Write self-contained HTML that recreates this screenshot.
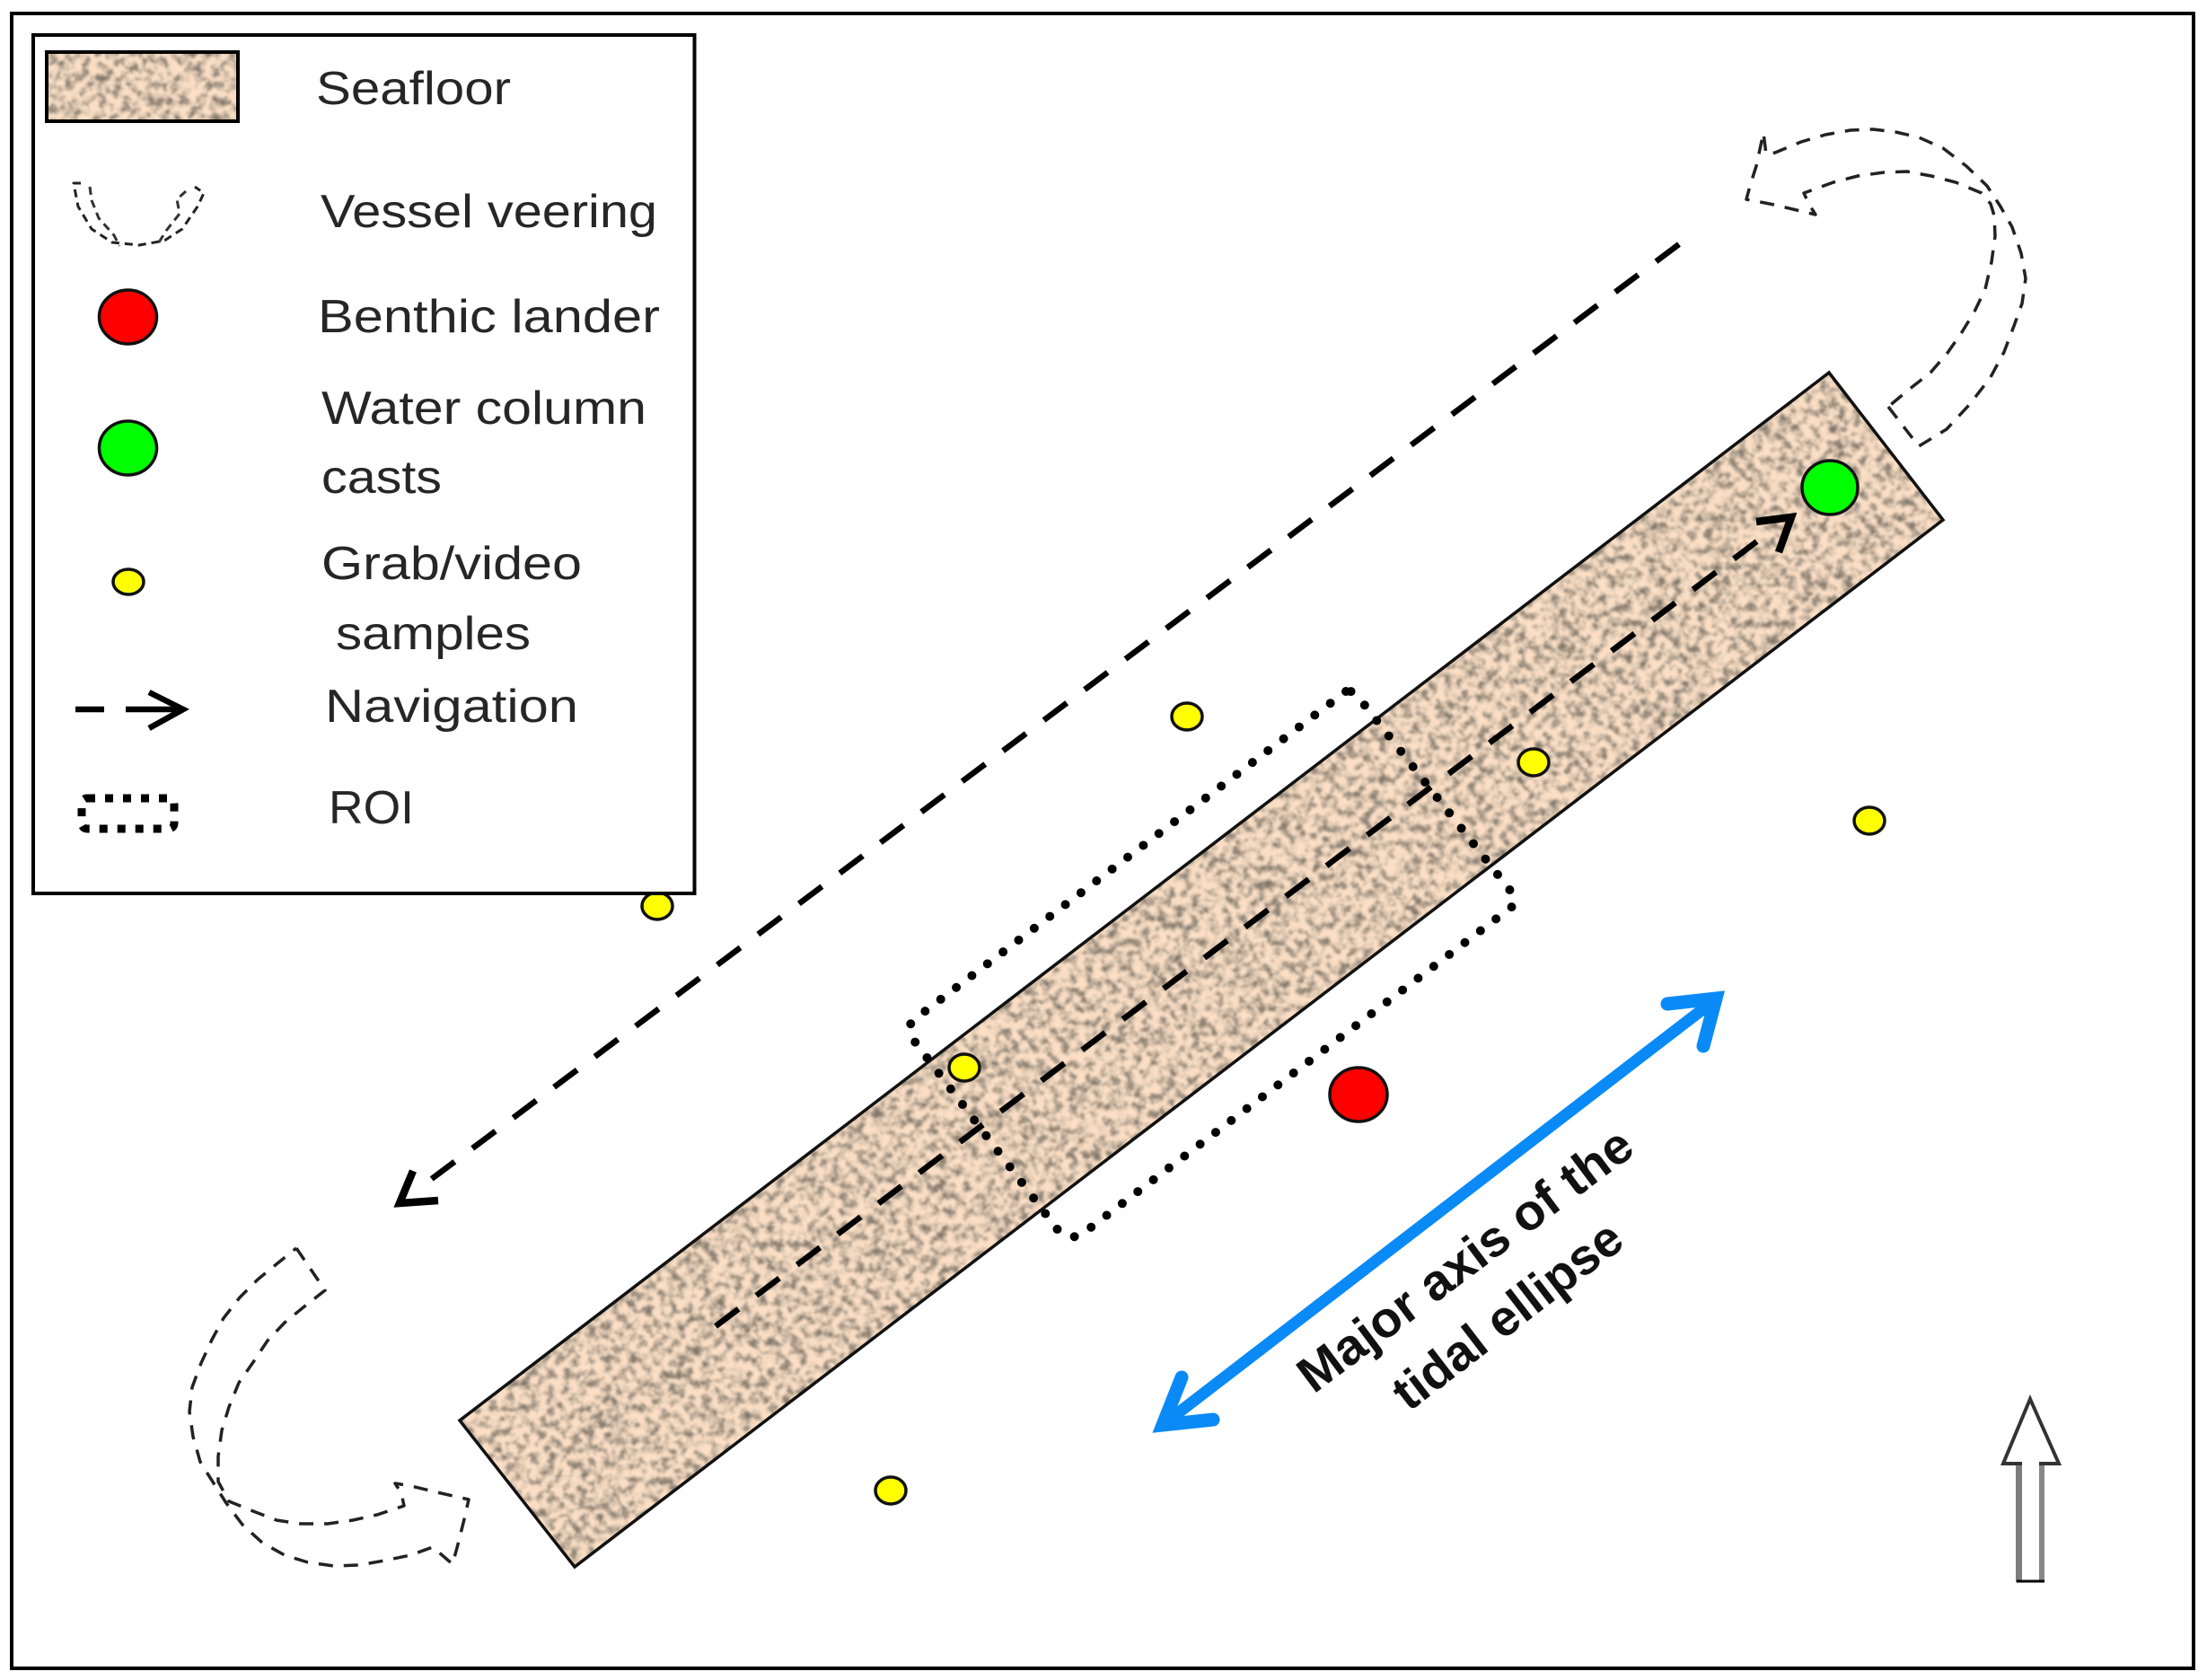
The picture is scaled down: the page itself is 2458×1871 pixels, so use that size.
<!DOCTYPE html>
<html>
<head>
<meta charset="utf-8">
<style>
html,body{margin:0;padding:0;background:#fff}
svg{display:block}
text{font-family:"Liberation Sans",sans-serif;fill:#262626}
</style>
</head>
<body>
<svg xmlns="http://www.w3.org/2000/svg" width="2458" height="1871" viewBox="0 0 2458 1871">
<defs>
<filter id="tex" filterUnits="userSpaceOnUse" x="0" y="0" width="2458" height="1871" color-interpolation-filters="sRGB">
<feTurbulence type="fractalNoise" baseFrequency="0.11" numOctaves="3" seed="7" result="a0"/>
<feColorMatrix in="a0" type="matrix" values="1 0 0 0 0 1 0 0 0 0 1 0 0 0 0 0 0 0 0 1" result="a"/>
<feTurbulence type="fractalNoise" baseFrequency="0.03" numOctaves="2" seed="11" result="b0"/>
<feColorMatrix in="b0" type="matrix" values="1 0 0 0 0 1 0 0 0 0 1 0 0 0 0 0 0 0 0 1" result="b"/>
<feComposite in="a" in2="b" operator="arithmetic" k1="0" k2="0.85" k3="0.2" k4="-0.02"/>
<feComponentTransfer>
<feFuncR type="table" tableValues=".50 .50 .50 .58 .72 .88 .98 .99 .99 .99 .99"/>
<feFuncG type="table" tableValues=".46 .46 .46 .53 .65 .79 .87 .875 .875 .875 .875"/>
<feFuncB type="table" tableValues=".41 .41 .41 .47 .58 .70 .77 .776 .776 .776 .776"/>
</feComponentTransfer>
<feGaussianBlur stdDeviation="1.1"/>
</filter>
<clipPath id="strip"><polygon points="2037,415 2164,579 640,1745 512,1582"/></clipPath>
<clipPath id="sw"><rect x="52" y="58" width="213" height="77"/></clipPath>
</defs>

<rect x="0" y="0" width="2458" height="1871" fill="#fff"/>
<rect x="13" y="15" width="2430" height="1843" fill="#fff" stroke="#000" stroke-width="4"/>

<!-- strip -->
<g clip-path="url(#strip)"><rect x="500" y="400" width="1680" height="1360" filter="url(#tex)"/></g>
<polygon points="2037,415 2164,579 640,1745 512,1582" fill="none" stroke="#111" stroke-width="3.5"/>

<!-- outer navigation -->
<line x1="1870" y1="272" x2="478" y2="1315" stroke="#000" stroke-width="6.5" stroke-dasharray="32 24.8"/>
<polyline points="460,1304 445,1340 488,1337" fill="none" stroke="#000" stroke-width="8.5"/>

<!-- inner navigation -->
<line x1="797" y1="1477" x2="1958" y2="602" stroke="#000" stroke-width="6.5" stroke-dasharray="32 24.8"/>
<polyline points="1956,581 1995,576 1981,615" fill="none" stroke="#000" stroke-width="8.5"/>

<!-- ROI -->
<path d="M1499,770 L1016,1137 Q1012,1141 1015,1155 L1176,1367 Q1186,1381 1203,1376 L1685,1009 Q1690,1004 1683,993 L1518,783 Q1507,767 1499,770Z" fill="none" stroke="#000" stroke-width="10" stroke-linecap="round" stroke-dasharray="0 21.8"/>

<!-- top-right veering -->
<polyline fill="none" stroke="#222" stroke-width="3.5" stroke-dasharray="16 12" stroke-linejoin="round" points="2103,453 2137,497 2168,478 2194,450 2217,420 2232,392 2243,363 2252,338 2256,310 2251,282 2241,253 2228,230 2213,207 2190,185 2164,165 2137,153 2111,147 2086,144 2061,145 2033,150 2006,158 1977,170 1967,172 1964,148 1956,185 1949,207 1945,222 1976,228 2022,239 2015,228 2009,215 2042,203 2069,196 2098,192 2124,191 2151,196 2178,203 2207,215 2217,227 2221,240 2222,263 2218,292 2211,322 2199,347 2185,370 2169,393 2150,415 2127,433 2103,453"/>

<!-- bottom-left veering -->
<polyline fill="none" stroke="#222" stroke-width="3.5" stroke-dasharray="16 12" stroke-linejoin="round" points="330,1390 362,1437 339,1455 317,1473 298,1493 282,1517 266,1540 255,1567 247,1593 243,1622 243,1650 255,1672 282,1683 308,1693 335,1697 365,1697 393,1693 420,1687 450,1677 447,1663 440,1652 458,1655 487,1662 522,1670 517,1692 510,1720 504,1742 482,1723 457,1732 428,1738 400,1743 372,1744 343,1740 317,1732 292,1718 270,1698 252,1674 238,1652 223,1628 215,1600 211,1572 214,1545 224,1518 236,1492 249,1468 267,1445 287,1425 309,1407 330,1390"/>

<!-- blue double arrow -->
<line x1="1296" y1="1586" x2="1912" y2="1112" stroke="#0A8AF6" stroke-width="13"/>
<polyline points="1857,1118 1911,1112 1897,1165" fill="none" stroke="#0A8AF6" stroke-width="15" stroke-linecap="round"/>
<polyline points="1316,1534 1295,1587 1351,1581" fill="none" stroke="#0A8AF6" stroke-width="15" stroke-linecap="round"/>

<text transform="translate(1463,1553) rotate(-36.8)" font-size="56" font-weight="bold" textLength="450" lengthAdjust="spacingAndGlyphs" style="fill:#111">Major axis of the</text>
<text transform="translate(1569,1573) rotate(-37.5)" font-size="56" font-weight="bold" textLength="306" lengthAdjust="spacingAndGlyphs" style="fill:#111">tidal ellipse</text>

<!-- north arrow -->
<line x1="2248.5" y1="1630" x2="2248.5" y2="1762" stroke="#7d7d7d" stroke-width="7"/>
<line x1="2274" y1="1630" x2="2274" y2="1762" stroke="#888" stroke-width="6"/>
<line x1="2246" y1="1761" x2="2277" y2="1761" stroke="#000" stroke-width="3"/>
<polygon points="2261,1558 2231,1630 2293,1630" fill="none" stroke="#333" stroke-width="4"/>
<line x1="2252" y1="1630" x2="2271" y2="1630" stroke="#fff" stroke-width="5"/>

<!-- markers -->
<g stroke="#111" stroke-width="3.5">
<ellipse cx="2038" cy="543" rx="31" ry="30" fill="#00FF00"/>
<ellipse cx="1513" cy="1219" rx="32" ry="30" fill="#FF0000"/>
<ellipse cx="732" cy="1009" rx="17" ry="15" fill="#FFFF00"/>
<ellipse cx="1322" cy="798" rx="17" ry="15" fill="#FFFF00"/>
<ellipse cx="1708" cy="849" rx="17" ry="15" fill="#FFFF00"/>
<ellipse cx="2082" cy="914" rx="17" ry="15" fill="#FFFF00"/>
<ellipse cx="1074" cy="1189" rx="17" ry="15" fill="#FFFF00"/>
<ellipse cx="992" cy="1660" rx="17" ry="15" fill="#FFFF00"/>
</g>

<!-- legend -->
<rect x="37" y="39" width="736.5" height="956" fill="#fff" stroke="#000" stroke-width="4"/>
<g clip-path="url(#sw)"><rect x="40" y="50" width="240" height="95" filter="url(#tex)"/></g>
<rect x="52" y="58" width="213" height="77" fill="none" stroke="#000" stroke-width="4"/>

<polyline fill="none" stroke="#222" stroke-width="3" stroke-dasharray="9 6" stroke-linejoin="round" points="90,204 82,204 87,230 102,255 125,270 155,273 183,268 203,255 220,230 227,215 217,208"/>
<polyline fill="none" stroke="#333" stroke-width="3" stroke-dasharray="9 6" points="100,208 102,223 110,243 127,262 133,274"/>
<polyline fill="none" stroke="#333" stroke-width="3" stroke-dasharray="9 6" points="207,213 197,222 200,238 185,257 175,273"/>

<g stroke="#111" stroke-width="3.5">
<ellipse cx="142.5" cy="353" rx="32" ry="30" fill="#FF0000"/>
<ellipse cx="142.5" cy="499" rx="32" ry="30" fill="#00FF00"/>
<ellipse cx="143" cy="648" rx="17" ry="14" fill="#FFFF00"/>
</g>

<line x1="84" y1="790" x2="116" y2="790" stroke="#000" stroke-width="6.5"/>
<line x1="140" y1="790" x2="200" y2="790" stroke="#000" stroke-width="6.5"/>
<polyline points="166,771 204,790 166,811" fill="none" stroke="#000" stroke-width="6.5"/>

<rect x="91" y="889" width="103" height="34" rx="6" fill="none" stroke="#000" stroke-width="9" stroke-dasharray="9 11"/>

<g font-size="52">
<text x="352" y="116" textLength="217" lengthAdjust="spacingAndGlyphs">Seafloor</text>
<text x="357" y="253" textLength="375" lengthAdjust="spacingAndGlyphs">Vessel veering</text>
<text x="354" y="370" textLength="381" lengthAdjust="spacingAndGlyphs">Benthic lander</text>
<text x="358" y="472" textLength="362" lengthAdjust="spacingAndGlyphs">Water column</text>
<text x="358" y="549" textLength="134" lengthAdjust="spacingAndGlyphs">casts</text>
<text x="358" y="645" textLength="290" lengthAdjust="spacingAndGlyphs">Grab/video</text>
<text x="374" y="723" textLength="217" lengthAdjust="spacingAndGlyphs">samples</text>
<text x="362" y="804" textLength="282" lengthAdjust="spacingAndGlyphs">Navigation</text>
<text x="366" y="917" textLength="95" lengthAdjust="spacingAndGlyphs">ROI</text>
</g>
</svg>
</body>
</html>
